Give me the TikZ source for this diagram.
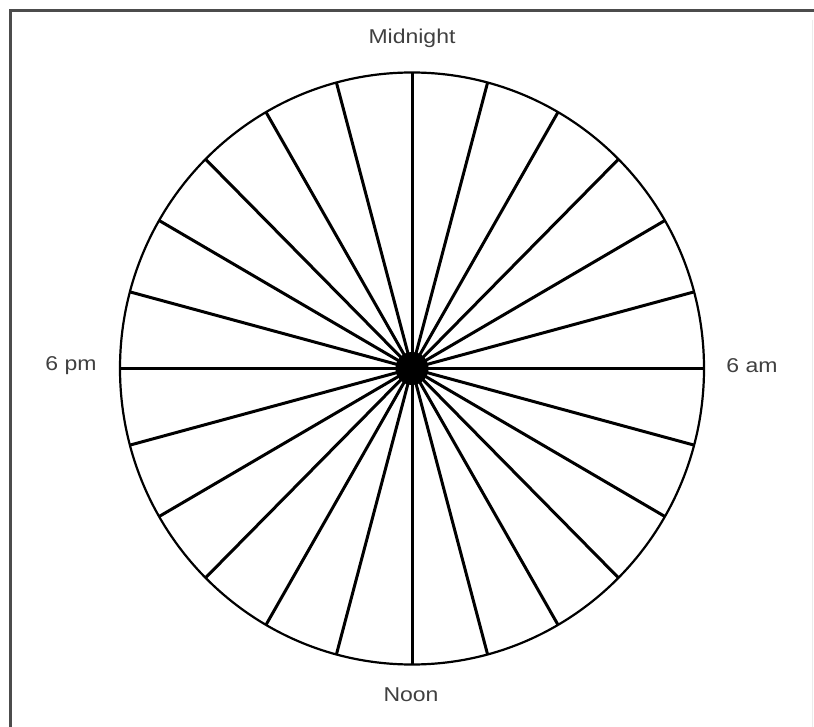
\documentclass[tikz,border=0pt]{standalone}
\usepackage{fontspec}
\newfontfamily\labfont[FakeStretch=1.15]{Liberation Sans}
\begin{document}
\begin{tikzpicture}[x=1pt,y=-1pt,
  spoke/.style={line width=3pt,black},
  rim/.style={line width=2.2pt,black},
  lab/.style={font=\labfont\fontsize{20}{24}\selectfont,text=black!75,inner sep=0pt},
  frameline/.style={line width=3pt,black!70}]
\useasboundingbox (0,0) rectangle (814,727);
\fill[white] (0,0) rectangle (814,727);
\draw[frameline] (10.5,727) -- (10.5,10.5) -- (814,10.5);
\draw[line width=1pt,black!8] (812,20) -- (812,727);
\coordinate (c) at (412,368.5);
\foreach \a in {0,15,...,345}{
  \draw[spoke] (c) -- ++(\a:292 and 296);
}
\draw[rim] (c) ellipse [x radius=292, y radius=296];
\fill[black] (c) circle (16.5);
\node[lab] (mid) at (412,38) {Midnight};
\node[lab] (noon) at (411,695) {Noon};
\node[lab] (pm) at (71,366) {6 pm};
\node[lab] (am) at (752,366) {6 am};
\end{tikzpicture}
\end{document}
